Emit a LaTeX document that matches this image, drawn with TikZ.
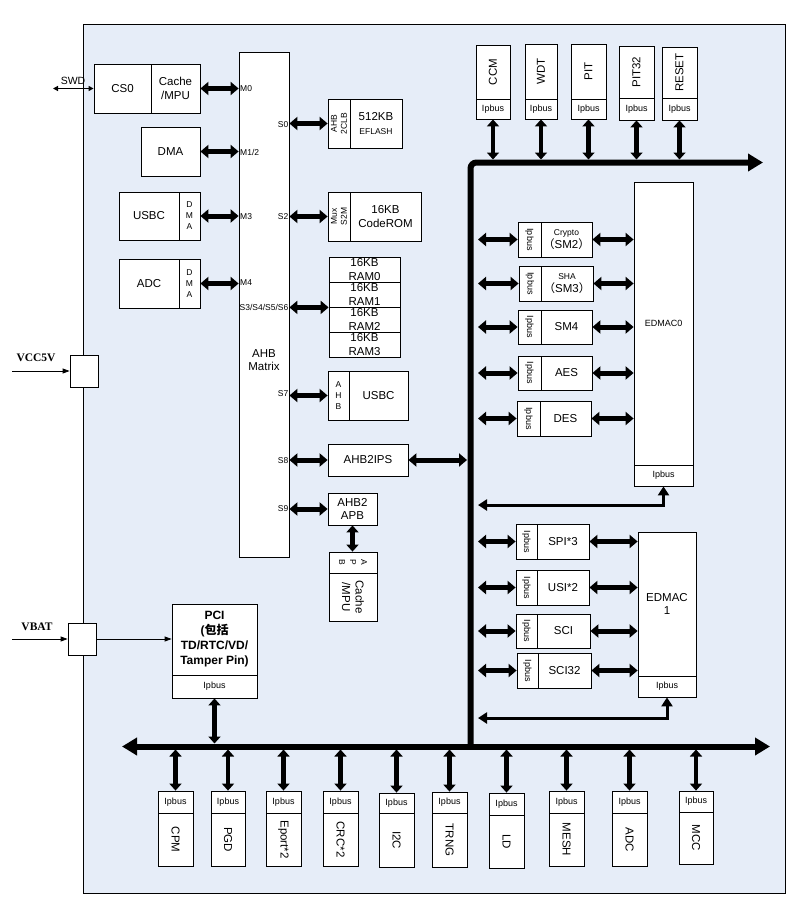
\documentclass[tikz,border=0pt]{standalone}
\usepackage{fontspec}
\setmainfont{Liberation Sans}
\newfontfamily\serifb{Liberation Serif}
\newfontfamily\cjk{Noto Sans CJK SC}
\usetikzlibrary{arrows.meta}
\definecolor{bgblue}{RGB}{230,237,248}
\newcommand\fsm{\fontsize{8.5}{10}\selectfont}
\newcommand\fst{\fontsize{8.5}{11}\selectfont}
\newcommand\flp{\fontsize{9}{10}\selectfont}
\newcommand\fmd{\fontsize{11.5}{13.5}\selectfont}
\newcommand\flb{\fontsize{8.5}{9}\selectfont}
\newcommand\pbox[7][]{%
 \pgfmathsetmacro\bxcx{(#3+#5)/2}%
 \pgfmathsetmacro\bxcy{(#4+#6)/2}%
 \pgfmathsetmacro\bxw{#5-#3}%
 \pgfmathsetmacro\bxh{#6-#4}%
 \node[box,minimum width=\bxw pt,minimum height=\bxh pt,#1] (#2) at (\bxcx,\bxcy) {#7};}
\newcommand\rtext[4][]{\node[rot,rotate=#2,#1] (#3-t) at (#3.center) {#4};}
% top peripheral: name, x1, x2, top, div, bot, text
\newcommand\tper[7]{%
 \pbox{#1}{#2}{#4}{#3}{#5}{}%
 \pbox[font=\flp]{#1lp}{#2}{#5}{#3}{#6}{Ipbus}%
 \rtext{90}{#1}{#7}%
 \draw[vdbl] (#1lp.south) -- (#1lp.south |- ttop);}
% bottom peripheral
\newcommand\bper[7]{%
 \pbox[font=\flp]{#1lp}{#2}{#4}{#3}{#5}{Ipbus}%
 \pbox{#1}{#2}{#5}{#3}{#6}{}%
 \rtext{-90}{#1}{#7}%
 \draw[vdbl] (#1lp.north) -- (#1lp.north |- bbot);}
% row peripheral: name, x1, xd, x2, y1, y2, text, target
\newcommand\cper[8]{%
 \pbox{#1lp}{#2}{#5}{#3}{#6}{}%
 \rtext[font=\flp]{-90}{#1lp}{Ipbus}%
 \pbox{#1}{#3}{#5}{#4}{#6}{#7}%
 \draw[dbl] (vbR |- #1lp.west) -- (#1lp.west);
 \draw[dbl] (#1.east) -- (#1.east -| #8.west);}
\begin{document}
\begin{tikzpicture}[x=1pt,y=-1pt,
 box/.style={draw,fill=white,line width=0.8pt,inner sep=0pt,align=center,font=\fmd},
 rot/.style={inner sep=0pt,align=center,font=\fmd},
 lbl/.style={inner sep=0.5pt,font=\flb},
 dbl/.style={line width=5pt,{Triangle[width=13pt,length=8pt]}-{Triangle[width=13pt,length=8pt]}},
 vdbl/.style={line width=4.5pt,{Triangle[width=12pt,length=7pt]}-{Triangle[width=12pt,length=7pt]}},
 ret/.style={line width=3pt,{Triangle[width=11pt,length=9pt]}-{Triangle[width=11pt,length=9pt]}},
 thinarr/.style={line width=0.8pt,-{Triangle[width=5pt,length=7pt]}},
 swdarr/.style={line width=1.8pt,{Triangle[width=5pt,length=5pt]}-{Triangle[width=5pt,length=5pt]}},
 busline/.style={line width=6pt}]
\useasboundingbox (0,0) rectangle (796,907);
\fill[white] (0,0) rectangle (796,907);
\draw[fill=bgblue,line width=0.8pt] (83,24) rectangle (785,893);

% bus coordinates
\coordinate (vt) at (470.5,162.5);
\coordinate (vb) at (470.5,746.5);
\coordinate (tr) at (763,162.5);
\coordinate (bl) at (122,746.5);
\coordinate (br) at (770,746.5);
\coordinate (vbR) at (478,400);
\coordinate (vbL) at (467,400);
\coordinate (ttop) at (0,159.5);
\coordinate (btop) at (0,743.5);
\coordinate (bbot) at (0,749.5);

\draw[busline,rounded corners=6pt,-{Triangle[width=17pt,length=15pt]}] (vb) -- (vt) -- (tr);
\draw[busline,{Triangle[width=17pt,length=15pt]}-{Triangle[width=17pt,length=15pt]}] (bl) -- (br);

% masters
\pbox{cs0}{94}{64}{151}{113}{CS0}
\pbox{cache}{151}{64}{200}{113}{Cache\\/MPU}
\pbox{dma}{141}{127}{200}{176}{DMA}
\pbox{usbm}{119}{192}{179}{240}{USBC}
\pbox[font=\fst]{usbd}{179}{192}{200}{240}{D\\M\\A}
\pbox{adcm}{119}{259}{179}{308}{ADC}
\pbox[font=\fst]{adcd}{179}{259}{200}{308}{D\\M\\A}
\pbox{ahb}{239}{52}{289}{557}{}
\node[rot] (ahbt) at (264,360) {AHB\\Matrix};

\coordinate (swdL) at (53,88.5);
\draw[swdarr] (swdL) -- (swdL -| cs0.west);
\node[inner sep=0pt,font=\fontsize{10.5}{11}\selectfont] (swdt) at (73,81) {SWD};

% master labels
\node[lbl,anchor=west] (m0) at (239.5,89) {M0};
\node[lbl,anchor=west] (m12) at (239.5,152) {M1/2};
\node[lbl,anchor=west] (m3) at (239.5,217) {M3};
\node[lbl,anchor=west] (m4) at (239.5,283) {M4};
\node[lbl,anchor=east] (s0) at (289,125) {S0};
\node[lbl,anchor=east] (s2) at (289,217) {S2};
\node[lbl,anchor=east] (s36) at (289,307) {S3/S4/S5/S6};
\node[lbl,anchor=east] (s7) at (289,394) {S7};
\node[lbl,anchor=east] (s8) at (289,461) {S8};
\node[lbl,anchor=east] (s9) at (289,509) {S9};

\draw[dbl] (cache.east) -- (cache.east -| ahb.west);
\draw[dbl] (dma.east) -- (dma.east -| ahb.west);
\draw[dbl] (usbd.east) -- (usbd.east -| ahb.west);
\draw[dbl] (adcd.east) -- (adcd.east -| ahb.west);

% slaves
\pbox{efa}{328}{99}{350}{148}{}
\rtext[font=\fsm]{90}{efa}{AHB\\2CLB}
\pbox{efl}{350}{99}{402}{148}{512KB\\{\fsm EFLASH}}
\pbox{mux}{328}{192}{350}{241}{}
\rtext[font=\fsm]{90}{mux}{Mux\\S2M}
\pbox{rom}{350}{192}{421}{241}{16KB\\CodeROM}
\pbox[font=\fontsize{11.5}{14}\selectfont]{ram0}{329}{257}{400}{282}{16KB\\RAM0}
\pbox[font=\fontsize{11.5}{14}\selectfont]{ram1}{329}{282}{400}{307}{16KB\\RAM1}
\pbox[font=\fontsize{11.5}{14}\selectfont]{ram2}{329}{307}{400}{332}{16KB\\RAM2}
\pbox[font=\fontsize{11.5}{14}\selectfont]{ram3}{329}{332}{400}{357}{16KB\\RAM3}
\pbox[font=\fst]{usbA}{328}{371}{349}{420}{A\\H\\B}
\pbox{usbS}{349}{371}{408}{420}{USBC}
\pbox{ips}{328}{444}{408}{476}{AHB2IPS}
\pbox{apb2}{328}{493}{377}{525}{AHB2\\APB}
\pbox{apbT}{329}{552}{377}{573}{}
\rtext[font=\fst]{-90}{apbT}{A\\P\\B}
\pbox{apbC}{329}{573}{377}{621}{}
\rtext{-90}{apbC}{Cache\\/MPU}

\draw[dbl] (ahb.east |- efa.west) -- (efa.west);
\draw[dbl] (ahb.east |- mux.west) -- (mux.west);
\draw[dbl] (ahb.east |- ram1.south west) -- (ram1.south west);
\draw[dbl] (ahb.east |- usbA.west) -- (usbA.west);
\draw[dbl] (ahb.east |- ips.west) -- (ips.west);
\draw[dbl] (ahb.east |- apb2.west) -- (apb2.west);
\draw[dbl] (ips.east) -- (ips.east -| vbL);
\draw[vdbl] (apb2.south) -- (apb2.south |- apbT.north);

% top peripherals
\tper{ccm}{476}{510}{45}{99}{119}{CCM}
\tper{wdt}{525}{557}{44}{99}{119}{WDT}
\tper{pit}{571}{606}{44}{99}{119}{PIT}
\tper{pitb}{619}{654}{46}{98}{120}{PIT32}
\tper{rst}{662}{697}{47}{98}{120}{RESET}

% EDMAC0 group
\pbox[font=\fontsize{9}{10}\selectfont]{ed0}{634}{182}{693}{465}{EDMAC0}
\pbox[font=\flp]{ed0lp}{634}{465}{693}{486}{Ipbus}
\cper{cr}{518}{541}{592}{222}{257}{\fsm Crypto\\{\cjk （}SM2{\cjk ）}}{ed0}
\cper{sh}{519}{541}{593}{266}{301}{\fsm SHA\\{\cjk （}SM3{\cjk ）}}{ed0}
\cper{smf}{518}{541}{592}{310}{344}{SM4}{ed0}
\cper{aes}{518}{541}{592}{356}{390}{AES}{ed0}
\cper{des}{517}{540}{591}{401}{436}{DES}{ed0}
\coordinate (r0) at (663.5,505);
\draw[ret] (vbR |- r0) -- (r0) -- (ed0lp.south);

% EDMAC1 group
\pbox{ed1}{638}{532}{696}{676}{EDMAC\\1}
\pbox[font=\flp]{ed1lp}{638}{676}{696}{697}{Ipbus}
\cper{spi}{516}{537}{589}{524}{559}{SPI*3}{ed1}
\cper{usi}{516}{537}{589}{570}{605}{USI*2}{ed1}
\cper{sci}{516}{537}{590}{614}{648}{SCI}{ed1}
\cper{scib}{517}{538}{591}{653}{688}{SCI32}{ed1}
\coordinate (r1) at (667,718);
\draw[ret] (vbR |- r1) -- (r1) -- (ed1lp.south);

% bottom peripherals
\bper{cpm}{158}{193}{791}{813}{866}{CPM}
\bper{pgd}{211}{245}{791}{813}{866}{PGD}
\bper{eport}{266}{301}{791}{813}{866}{Eport*2}
\bper{crc}{323}{358}{791}{813}{866}{CRC*2}
\bper{iic}{379}{414}{793}{813}{867}{I2C}
\bper{trng}{432}{467}{792}{813}{867}{TRNG}
\bper{ld}{489}{524}{793}{815}{868}{LD}
\bper{mesh}{549}{584}{791}{813}{866}{MESH}
\bper{adcb}{612}{647}{791}{813}{866}{ADC}
\bper{mcc}{679}{713}{791}{812}{864}{MCC}

% PCI
\pbox[font=\fontsize{12}{15}\selectfont\bfseries]{pci}{172}{604}{257}{675}{PCI\\({\cjk\bfseries 包括}\\TD/RTC/VD/\\Tamper Pin)}
\pbox[font=\flp]{pcilp}{172}{675}{257}{698}{Ipbus}
\draw[vdbl] (pcilp.south) -- (pcilp.south |- btop);

% power inputs
\pbox{vcc}{70}{355}{98}{387}{}
\pbox{vbat}{68}{623}{96}{655}{}
\coordinate (vccin) at (12,371);
\coordinate (vbatin) at (12,639);
\draw[thinarr] (vccin) -- (vcc.west);
\draw[thinarr] (vbatin) -- (vbat.west);
\draw[thinarr] (vbat.east) -- (vbat.east -| pci.west);
\node[inner sep=0pt,font=\serifb\bfseries\fontsize{11.5}{12}\selectfont] (vcct) at (36,358) {VCC5V};
\node[inner sep=0pt,font=\serifb\bfseries\fontsize{11.5}{12}\selectfont] (vbatt) at (37,627) {VBAT};
\end{tikzpicture}
\end{document}
